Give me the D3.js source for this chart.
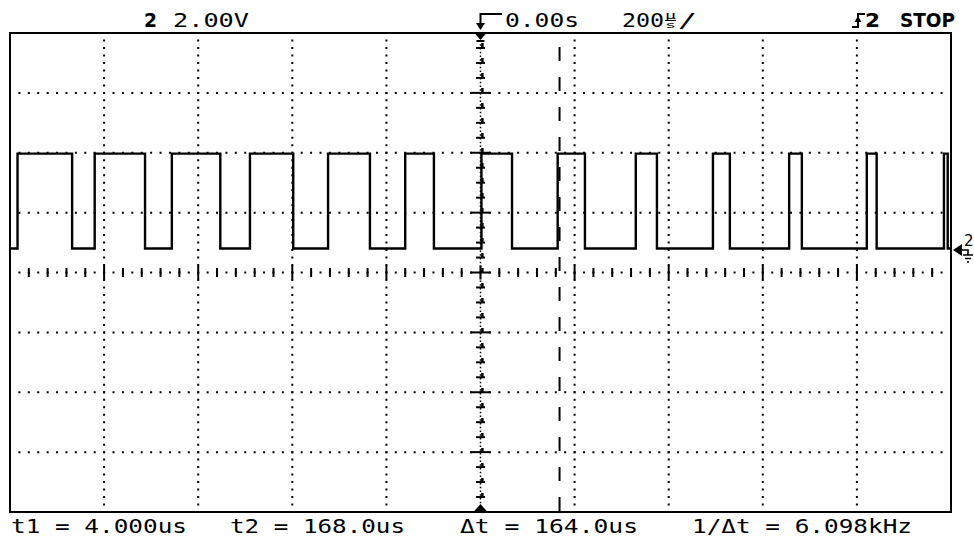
<!doctype html>
<html lang="en">
<head>
<meta charset="utf-8">
<title>Scope capture</title>
<style>
  body { margin: 0; background: #fff; }
  svg { display: block; }
  .lbl { font-family: "DejaVu Sans Mono", monospace; font-size: 20px; fill: #000; }
  .bold { font-family: "DejaVu Sans", sans-serif; font-weight: bold; font-size: 19px; fill: #000; }
</style>
</head>
<body>
<div id="scope"></div>
<script src="https://cdn.jsdelivr.net/npm/d3@7"></script>
<script>
// edge times of the captured pulse train, in microseconds (trigger at 0)
var riseTimes = [-984, -820, -656, -490, -324, -160, 2, 164, 330, 494, 656, 821, 985];
var fallTimes = [-868, -713, -553, -398, -235, -99, 67, 222, 375, 530, 683, 842, 993];
var lowVolts = 0.05;
var highVolts = 3.22;

// cursors
var t1 = 4.0;
var t2 = 168.0;

// readouts
var chanLabel = "2";
var voltsPerDiv = "2.00V";
var delayLabel = "0.00s";
var timePerDiv = "200";
var trigLabel = "2";
var runLabel = "STOP";
var cursorLabels = ["t1 = 4.000us", "t2 = 168.0us", "\u0394t = 164.0us", "1/\u0394t = 6.098kHz"];

(function() {
  var width = 974, height = 538;
  var left = 10, right = 951, top = 33, bottom = 512;

  var x = d3.scaleLinear().domain([-1000, 1000]).range([left, right]);
  // 2 V/div, ground sits 0.375 div above screen centre
  var y = d3.scaleLinear().domain([-8.75, 7.25]).range([bottom, top]);
  var xc = x(0), yc = y(-0.75);

  var svg = d3.select("#scope").append("svg")
      .attr("width", width)
      .attr("height", height);

  svg.append("rect").attr("width", width).attr("height", height).attr("fill", "#fff");

  var g = svg.append("g");

  // dotted graticule
  var hDivs = d3.range(-6.75, 7.25, 2);
  g.selectAll(".hgrid").data(hDivs).enter().append("line")
      .attr("x1", left).attr("x2", right)
      .attr("y1", function(d) { return y(d); }).attr("y2", function(d) { return y(d); })
      .attr("stroke", "#000").attr("stroke-width", 2)
      .attr("stroke-dasharray", function() { var p = (x(200) - x(0)) / 10; return "2," + (p - 2); })
      .attr("stroke-dashoffset", 1);

  var vDivs = d3.range(-800, 1000, 200).filter(function(d) { return d !== 0; });
  g.selectAll(".vgrid").data(vDivs).enter().append("line")
      .attr("x1", function(d) { return x(d); }).attr("x2", function(d) { return x(d); })
      .attr("y1", top).attr("y2", bottom)
      .attr("stroke", "#000").attr("stroke-width", 2)
      .attr("stroke-dasharray", function() { var p = (y(0) - y(2)) / 8; return "2," + (p - 2); })
      .attr("stroke-dashoffset", 1);

  // centre vertical axis
  g.append("line")
      .attr("x1", xc).attr("x2", xc).attr("y1", top).attr("y2", bottom)
      .attr("stroke", "#000").attr("stroke-width", 1.5)
      .attr("stroke-dasharray", "1.5,2.25");

  // centre axis ticks
  var hTicks = d3.range(-1000, 1001, 40);
  g.selectAll(".htick").data(hTicks).enter().append("line")
      .attr("x1", function(d) { return x(d); }).attr("x2", function(d) { return x(d); })
      .attr("y1", function(d) { return yc - (d % 200 === 0 ? 7 : 4.5); })
      .attr("y2", function(d) { return yc + (d % 200 === 0 ? 7 : 4.5); })
      .attr("stroke", "#000").attr("stroke-width", 2);

  var vTicks = d3.range(-8.75, 7.3, 0.5);
  g.selectAll(".vtick").data(vTicks).enter().append("line")
      .attr("x1", function(d, i) { return xc - (i % 4 === 0 ? 10 : 4.5); })
      .attr("x2", function(d, i) { return xc + (i % 4 === 0 ? 10 : 4.5); })
      .attr("y1", function(d) { return y(d); }).attr("y2", function(d) { return y(d); })
      .attr("stroke", "#000").attr("stroke-width", 2);

  // cursors
  g.append("line")
      .attr("x1", x(t1)).attr("x2", x(t1)).attr("y1", top).attr("y2", bottom)
      .attr("stroke", "#000").attr("stroke-width", 2.5)
      .attr("stroke-dasharray", "5,10").attr("stroke-dashoffset", 5);
  g.append("line")
      .attr("x1", x(t2)).attr("x2", x(t2)).attr("y1", top).attr("y2", bottom)
      .attr("stroke", "#000").attr("stroke-width", 2)
      .attr("stroke-dasharray", "14,16").attr("stroke-dashoffset", 16);

  // trace
  var pts = [[-1000, lowVolts]];
  riseTimes.forEach(function(r, i) {
    pts.push([r, highVolts]);
    pts.push([fallTimes[i], lowVolts]);
  });
  pts.push([998, lowVolts]);

  var line = d3.line()
      .x(function(d) { return x(d[0]); })
      .y(function(d) { return y(d[1]); })
      .curve(d3.curveStepAfter);

  g.append("path")
      .datum(pts)
      .attr("d", line)
      .attr("fill", "none")
      .attr("stroke", "#000")
      .attr("stroke-width", 2.4);

  // frame
  g.append("rect")
      .attr("x", left).attr("y", top)
      .attr("width", right - left).attr("height", bottom - top)
      .attr("fill", "none").attr("stroke", "#000").attr("stroke-width", 2);

  // trigger position markers
  g.append("path").attr("d", "M" + (xc - 6) + "," + top + "H" + (xc + 6) + "L" + xc + "," + (top + 7) + "Z");
  g.append("path").attr("d", "M" + (xc - 4) + "," + (top + 8) + "H" + (xc + 4)).attr("stroke", "#000").attr("stroke-width", 2);
  g.append("path").attr("d", "M" + (xc - 7) + "," + bottom + "H" + (xc + 7) + "L" + xc + "," + (bottom - 8) + "Z");

  // delay arrow
  g.append("path").attr("d", "M502,14H" + xc + "V24").attr("fill", "none").attr("stroke", "#000").attr("stroke-width", 2);
  g.append("path").attr("d", "M" + (xc - 4.5) + ",23H" + (xc + 4.5) + "L" + xc + ",30Z");

  // trigger slope symbol
  g.append("path").attr("d", "M852,27H858V14H865").attr("fill", "none").attr("stroke", "#000").attr("stroke-width", 2);
  g.append("path").attr("d", "M854.5,22H861.5L858,16Z");

  // ground reference marker
  var yg = y(0);
  g.append("path").attr("d", "M953," + yg + "L962," + (yg - 6) + "V" + (yg + 6) + "Z");
  g.append("path").attr("d", "M961," + yg + "H968V" + (yg + 5) + "M963," + (yg + 5) + "H973M965," + (yg + 8.5) + "H971M967," + (yg + 12) + "H969")
      .attr("fill", "none").attr("stroke", "#000").attr("stroke-width", 1.6);
  g.append("text").attr("x", 964).attr("y", yg - 4)
      .style("font-family", "DejaVu Sans, sans-serif").style("font-size", "15px").text(chanLabel);

  // top readouts
  var txt = function(s, x0, base, w, cls) {
    return g.append("text").attr("class", cls || "lbl")
        .attr("x", x0).attr("y", base)
        .attr("textLength", w).attr("lengthAdjust", "spacingAndGlyphs")
        .text(s);
  };
  txt(chanLabel, 144, 27, 13, "bold");
  txt(voltsPerDiv, 173, 27, 76);
  txt(delayLabel, 505, 27, 74);
  txt(timePerDiv, 622, 27, 42);
  g.append("text").attr("x", 665).attr("y", 19).style("font-family", "DejaVu Sans Mono, monospace").style("font-size", "10px")
      .attr("textLength", 11).attr("lengthAdjust", "spacingAndGlyphs").text("\u03bc");
  g.append("path").attr("d", "M665,20.5H676").attr("stroke", "#000").attr("stroke-width", 1);
  g.append("text").attr("x", 665).attr("y", 27.5).style("font-family", "DejaVu Sans Mono, monospace").style("font-size", "9px")
      .attr("textLength", 11).attr("lengthAdjust", "spacingAndGlyphs").text("s");
  txt("/", 678, 27, 19);
  txt(trigLabel, 865, 27, 15, "bold");
  txt(runLabel, 900, 27, 55, "bold");

  // cursor readouts
  var cx = [11, 230, 460, 692];
  var cw = [176, 175, 178, 220];
  cursorLabels.forEach(function(s, i) { txt(s, cx[i], 533, cw[i]); });
})();
</script>
</body>
</html>
